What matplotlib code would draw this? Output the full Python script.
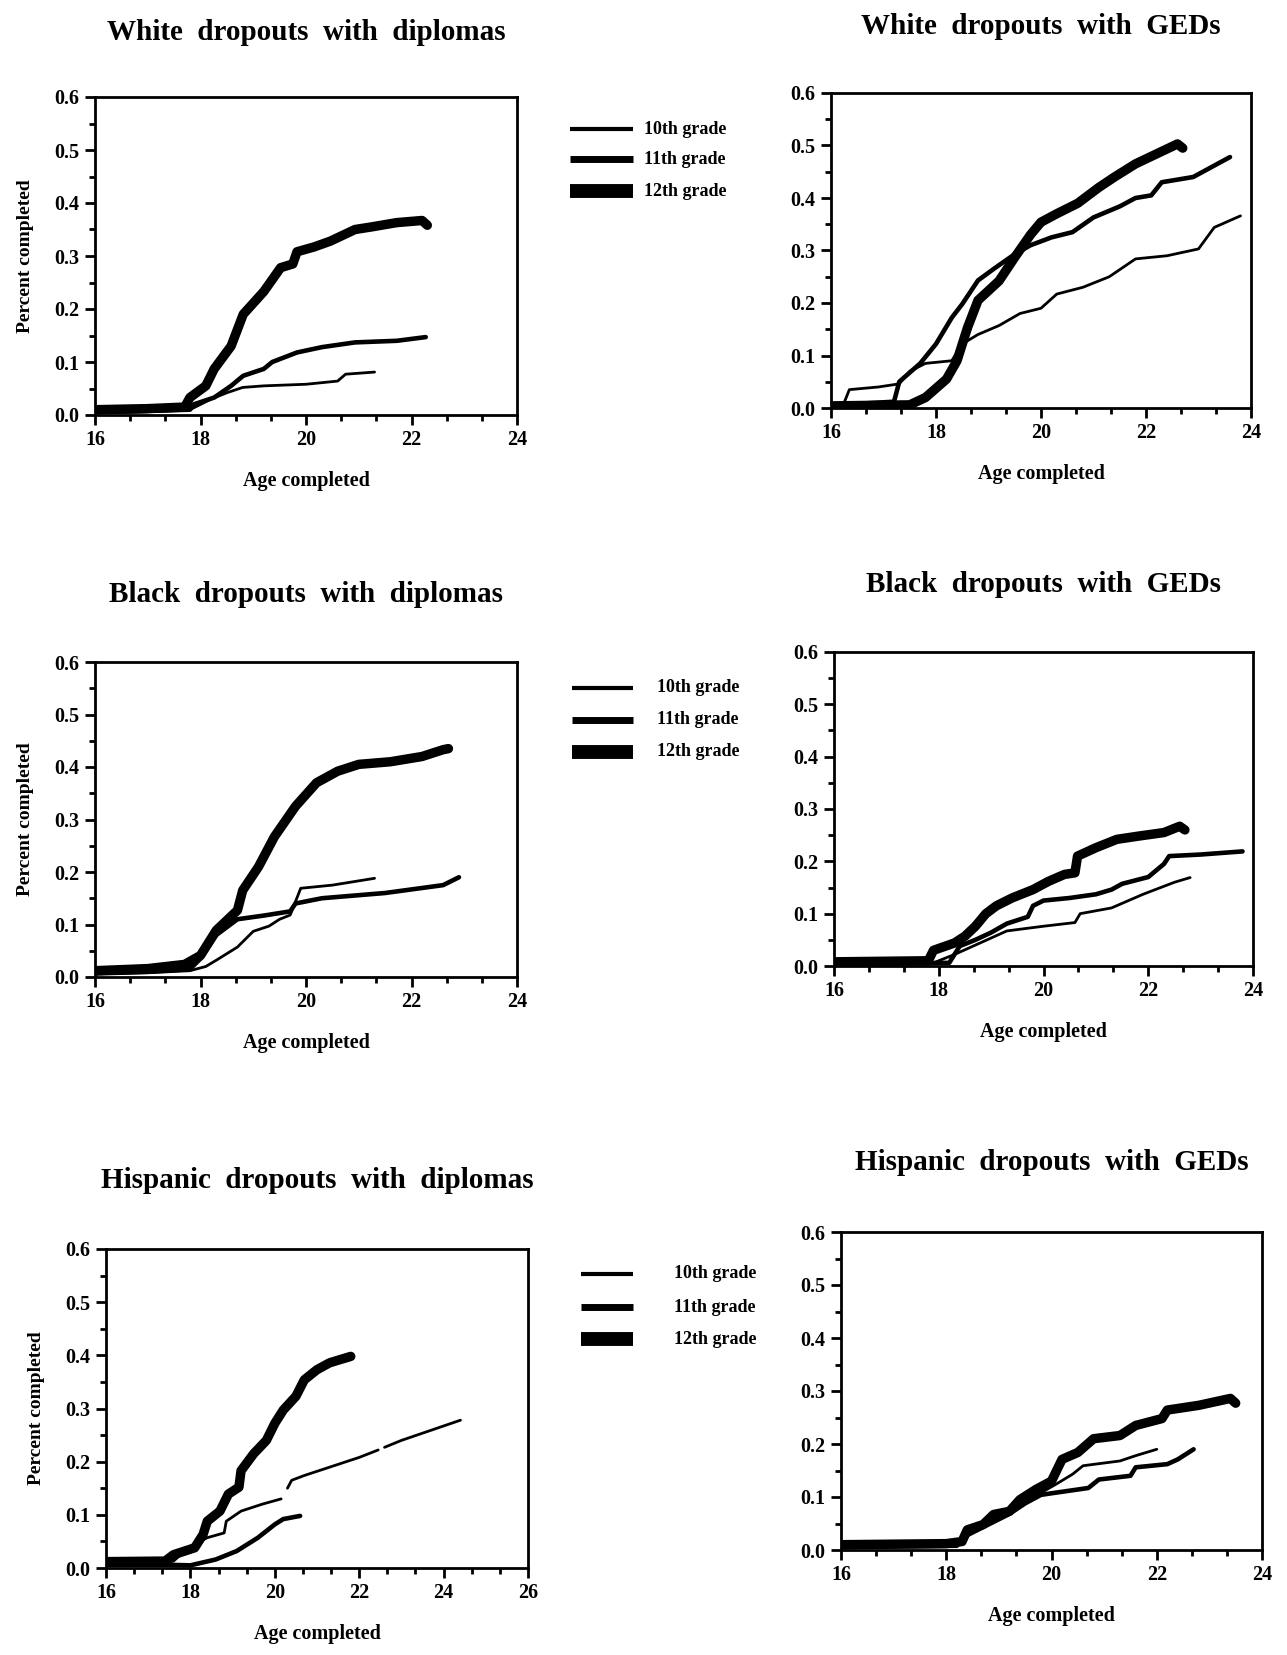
import numpy as np
import matplotlib
matplotlib.use("Agg")
import matplotlib.pyplot as plt
from matplotlib.lines import Line2D
from matplotlib.ticker import MultipleLocator, FormatStrFormatter

plt.rcParams['font.family'] = ['Liberation Serif', 'DejaVu Serif']
plt.rcParams['font.weight'] = 'bold'

nan = np.nan
grades = ["10th grade", "11th grade", "12th grade"]

# ---- White dropouts with diplomas
wd10_x = [16.0, 17.0, 17.8, 18.2, 18.5, 18.8, 19.2, 20.0, 20.6, 20.75, 21.3]
wd10_y = [0.004, 0.006, 0.010, 0.030, 0.042, 0.052, 0.055, 0.058, 0.064, 0.077, 0.081]
wd11_x = [16.0, 17.0, 17.8, 17.87, 18.26, 18.58, 18.81, 19.2, 19.36, 19.83, 20.3, 20.93, 21.72, 22.27]
wd11_y = [0.006, 0.008, 0.010, 0.020, 0.033, 0.055, 0.074, 0.087, 0.100, 0.118, 0.128, 0.137, 0.140, 0.147]
wd12_x = [16.0, 17.0, 17.7, 17.8, 18.1, 18.26, 18.58, 18.81, 19.2, 19.52, 19.75, 19.83, 20.15, 20.46, 20.93, 21.25, 21.72, 22.2, 22.3]
wd12_y = [0.010, 0.012, 0.015, 0.033, 0.055, 0.087, 0.130, 0.190, 0.233, 0.278, 0.285, 0.308, 0.317, 0.328, 0.350, 0.355, 0.363, 0.367, 0.358]

# ---- White dropouts with GEDs
wg10_x = [16.0, 16.25, 16.35, 16.9, 17.3, 17.5, 17.8, 18.3, 18.5, 18.8, 19.2, 19.6, 20.0, 20.3, 20.8, 21.3, 21.8, 22.4, 23.0, 23.3, 23.8]
wg10_y = [0.008, 0.010, 0.035, 0.040, 0.046, 0.070, 0.085, 0.090, 0.122, 0.140, 0.157, 0.180, 0.190, 0.217, 0.230, 0.250, 0.284, 0.290, 0.303, 0.344, 0.366]
wg11_x = [16.0, 17.2, 17.3, 17.7, 18.0, 18.3, 18.5, 18.8, 19.1, 19.5, 19.8, 20.2, 20.6, 21.0, 21.5, 21.8, 22.1, 22.3, 22.9, 23.6]
wg11_y = [0.005, 0.012, 0.050, 0.085, 0.122, 0.172, 0.198, 0.243, 0.265, 0.293, 0.310, 0.325, 0.335, 0.363, 0.384, 0.400, 0.405, 0.430, 0.440, 0.478]
wg12_x = [16.0, 17.5, 17.8, 18.2, 18.4, 18.6, 18.8, 19.2, 19.5, 19.8, 20.0, 20.3, 20.7, 21.1, 21.4, 21.8, 22.2, 22.6, 22.7]
wg12_y = [0.004, 0.006, 0.020, 0.055, 0.090, 0.153, 0.205, 0.242, 0.287, 0.330, 0.354, 0.370, 0.390, 0.420, 0.440, 0.465, 0.484, 0.503, 0.495]

# ---- Black dropouts with diplomas
bd10_x = [16.0, 17.0, 17.8, 18.1, 18.3, 18.7, 19.0, 19.3, 19.5, 19.7, 19.9, 20.5, 21.3]
bd10_y = [0.005, 0.008, 0.012, 0.020, 0.032, 0.057, 0.087, 0.097, 0.110, 0.118, 0.169, 0.175, 0.188]
bd11_x = [16.0, 17.0, 17.8, 18.0, 18.3, 18.7, 19.2, 19.7, 19.8, 20.3, 21.5, 22.6, 22.9]
bd11_y = [0.008, 0.010, 0.015, 0.035, 0.080, 0.110, 0.117, 0.125, 0.140, 0.150, 0.160, 0.175, 0.190]
bd12_x = [16.0, 17.0, 17.7, 18.0, 18.3, 18.7, 18.8, 19.1, 19.4, 19.8, 20.2, 20.6, 21.0, 21.6, 22.2, 22.6, 22.7]
bd12_y = [0.012, 0.016, 0.024, 0.041, 0.089, 0.127, 0.165, 0.210, 0.267, 0.325, 0.370, 0.392, 0.405, 0.410, 0.420, 0.433, 0.435]

# ---- Black dropouts with GEDs
bg10_x = [16.0, 17.9, 18.3, 18.7, 19.3, 20.0, 20.6, 20.7, 21.3, 21.9, 22.5, 22.8]
bg10_y = [0.004, 0.006, 0.022, 0.040, 0.067, 0.076, 0.083, 0.100, 0.111, 0.137, 0.160, 0.169]
bg11_x = [16.0, 18.2, 18.4, 18.7, 19.0, 19.3, 19.7, 19.8, 20.0, 20.5, 21.0, 21.3, 21.5, 22.0, 22.3, 22.4, 23.0, 23.8]
bg11_y = [0.004, 0.006, 0.038, 0.050, 0.064, 0.081, 0.094, 0.115, 0.125, 0.130, 0.137, 0.146, 0.157, 0.170, 0.195, 0.210, 0.213, 0.219]
bg12_x = [16.0, 17.8, 17.9, 18.3, 18.5, 18.7, 18.9, 19.1, 19.4, 19.8, 20.1, 20.4, 20.6, 20.65, 21.0, 21.4, 21.8, 22.3, 22.6, 22.7]
bg12_y = [0.008, 0.010, 0.030, 0.044, 0.057, 0.076, 0.100, 0.115, 0.130, 0.146, 0.162, 0.175, 0.178, 0.210, 0.226, 0.242, 0.248, 0.255, 0.267, 0.260]

# ---- Hispanic dropouts with diplomas
hd10_x = [16.0, 17.4, 17.6, 18.0, 18.4, 18.8, 18.85, 19.2, 19.7, 20.15, nan, 20.3, 20.4, 20.7, 22.0, 22.45, nan, 22.6, 23.0, 24.4]
hd10_y = [0.008, 0.010, 0.013, 0.041, 0.057, 0.066, 0.088, 0.107, 0.120, 0.130, nan, 0.150, 0.165, 0.174, 0.208, 0.222, nan, 0.227, 0.240, 0.278]
hd11_x = [16.0, 17.5, 18.0, 18.6, 19.1, 19.6, 20.0, 20.2, 20.6]
hd11_y = [0.006, 0.006, 0.005, 0.016, 0.032, 0.057, 0.082, 0.092, 0.098]
hd12_x = [16.0, 17.4, 17.6, 18.1, 18.3, 18.4, 18.7, 18.9, 19.15, 19.2, 19.5, 19.8, 20.0, 20.2, 20.5, 20.7, 21.0, 21.3, 21.8]
hd12_y = [0.012, 0.013, 0.025, 0.038, 0.063, 0.088, 0.107, 0.139, 0.152, 0.183, 0.215, 0.240, 0.272, 0.297, 0.323, 0.354, 0.373, 0.386, 0.398]

# ---- Hispanic dropouts with GEDs
hg10_x = [16.0, 18.2, 18.4, 18.8, 19.2, 19.5, 19.8, 20.1, 20.4, 20.6, 21.3, 21.6, 22.0]
hg10_y = [0.006, 0.008, 0.030, 0.050, 0.070, 0.090, 0.108, 0.125, 0.143, 0.159, 0.168, 0.178, 0.190]
hg11_x = [16.0, 18.2, 18.4, 18.8, 19.2, 19.5, 19.8, 20.0, 20.7, 20.9, 21.5, 21.6, 22.2, 22.4, 22.7]
hg11_y = [0.006, 0.008, 0.028, 0.048, 0.068, 0.088, 0.104, 0.107, 0.117, 0.133, 0.140, 0.156, 0.162, 0.171, 0.190]
hg12_x = [16.0, 18.0, 18.3, 18.4, 18.7, 18.9, 19.2, 19.4, 19.7, 20.0, 20.2, 20.5, 20.8, 21.3, 21.6, 22.1, 22.2, 22.8, 23.4, 23.5]
hg12_y = [0.010, 0.012, 0.016, 0.038, 0.048, 0.067, 0.073, 0.095, 0.114, 0.130, 0.171, 0.184, 0.210, 0.216, 0.235, 0.248, 0.264, 0.273, 0.286, 0.277]

titles = ["White  dropouts  with  diplomas", "White  dropouts  with  GEDs",
          "Black  dropouts  with  diplomas", "Black  dropouts  with  GEDs",
          "Hispanic  dropouts  with  diplomas", "Hispanic  dropouts  with  GEDs"]
x_max = [24, 24, 24, 24, 26, 24]
series = [
    [(wd10_x, wd10_y), (wd11_x, wd11_y), (wd12_x, wd12_y)],
    [(wg10_x, wg10_y), (wg11_x, wg11_y), (wg12_x, wg12_y)],
    [(bd10_x, bd10_y), (bd11_x, bd11_y), (bd12_x, bd12_y)],
    [(bg10_x, bg10_y), (bg11_x, bg11_y), (bg12_x, bg12_y)],
    [(hd10_x, hd10_y), (hd11_x, hd11_y), (hd12_x, hd12_y)],
    [(hg10_x, hg10_y), (hg11_x, hg11_y), (hg12_x, hg12_y)],
]

W, H = 1287, 1655
fig = plt.figure(figsize=(W / 100, H / 100), dpi=100)

# axes boxes in pixels: left, right, top, bottom ; title y (px)
boxes = [
    (95, 517, 97, 415, 32),
    (831, 1251, 93, 408, 26),
    (95, 517, 662, 977, 594),
    (834, 1253, 652, 966, 584),
    (106, 528, 1249, 1568, 1180),
    (841, 1262, 1232, 1550, 1162),
]
line_w = [2.0, 3.3, 6.8]

for i, (l, r, t, b, ty) in enumerate(boxes):
    ax = fig.add_axes([l / W, 1 - b / H, (r - l) / W, (b - t) / H])
    for (xs, ys), lw in zip(series[i], line_w):
        ax.plot(xs, ys, color='black', lw=lw, solid_capstyle='round', solid_joinstyle='round')
    ax.set_xlim(16, x_max[i])
    ax.set_ylim(0, 0.6)
    ax.xaxis.set_major_locator(MultipleLocator(2))
    ax.xaxis.set_minor_locator(MultipleLocator(2 / 3))
    ax.yaxis.set_major_locator(MultipleLocator(0.1))
    ax.yaxis.set_minor_locator(MultipleLocator(0.05))
    ax.yaxis.set_major_formatter(FormatStrFormatter('%.1f'))
    ax.xaxis.set_major_formatter(FormatStrFormatter('%d'))
    for s in ax.spines.values():
        s.set_linewidth(2.0)
    ax.tick_params(which='major', direction='out', length=7, width=2.0, labelsize=14.5, pad=4)
    ax.tick_params(which='minor', direction='out', length=4, width=2.0)
    for lab in ax.get_xticklabels() + ax.get_yticklabels():
        lab.set_fontweight('bold')
    ax.set_xlabel("Age completed", fontsize=14.5, fontweight='bold')
    ax.xaxis.set_label_coords(0.5, -56 / (b - t))
    if i % 2 == 0:
        ax.set_ylabel("Percent completed", fontsize=14, fontweight='bold')
        ax.yaxis.set_label_coords(-61 / (r - l), 0.5)
    fig.text((l + r) / 2 / W, 1 - ty / H, titles[i], ha='center', va='center',
             fontsize=21, fontweight='bold')

# legends (one per row of panels)
leg_rows = [
    ((129, 159, 191), 570, 633, 644),
    ((688, 720, 752), 572, 633, 657),
    ((1274, 1307, 1339), 581, 633, 674),
]
leg_w = [3.0, 5.0, 10.0]
for ys, x0, x1, xt in leg_rows:
    for yy, lw, lab in zip(ys, leg_w, grades):
        fig.add_artist(Line2D([x0 / W, x1 / W], [1 - yy / H, 1 - yy / H],
                              transform=fig.transFigure, color='black', lw=lw,
                              solid_capstyle='butt'))
        fig.text(xt / W, 1 - yy / H, lab, ha='left', va='center', fontsize=13,
                 fontweight='bold')

fig.savefig("out.png", dpi=100)
